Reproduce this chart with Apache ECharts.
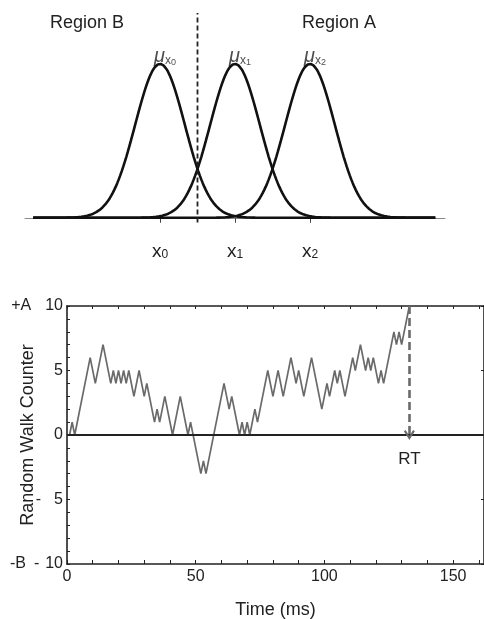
<!DOCTYPE html>
<html>
<head>
<meta charset="utf-8">
<script src="https://cdn.jsdelivr.net/npm/echarts@6/dist/echarts.min.js"></script>
<style>
html, body { margin: 0; padding: 0; background: #fff; }
#chart { width: 484px; height: 619px; }
</style>
</head>
<body>
<div id="chart"></div>
<script>
// top panel: stimulus distributions and decision criterion
var stimMeans = [0, 1, 2];
var stimNames = ['0', '1', '2'];
var stimSd = 0.33;
var criterion = 0.5;
var curveRange = [-1.69, 3.67];
var regionNames = ['Region B', 'Region A'];

// bottom panel: random walk turning points (time in ms, counter value)
var walkTime = [1, 2, 3, 9, 11, 14, 17, 18, 19, 20, 21, 22, 23, 24, 26, 28, 30, 31, 34, 35,
  36, 38, 41, 44, 47, 48, 52, 53, 54, 61, 63, 64, 67, 68, 69, 70, 71, 73, 74, 78,
  80, 82, 84, 87, 89, 90, 92, 95, 99, 101, 102, 104, 105, 106, 108, 111, 112, 114, 116, 117,
  118, 119, 121, 122, 123, 127, 128, 129, 130, 133];
var walkCount = [0, 1, 0, 6, 4, 7, 4, 5, 4, 5, 4, 5, 4, 5, 3, 5, 3, 4, 1, 2,
  1, 3, 0, 3, 0, 1, -3, -2, -3, 4, 2, 3, 0, 1, 0, 1, 0, 2, 1, 5,
  3, 5, 3, 6, 4, 5, 3, 6, 2, 4, 3, 5, 4, 5, 3, 6, 5, 7, 5, 6,
  5, 6, 4, 5, 4, 8, 7, 8, 7, 10];
var rtTime = 133;
var boundA = 10;
var xLabelTicks = [0, 50, 100, 150];

var FONT = '"Liberation Sans", Arial, sans-serif';
var chart = echarts.init(document.getElementById('chart'), null, { renderer: 'canvas' });

function gauss(x, m) {
  return Math.exp(-(x - m) * (x - m) / (2 * stimSd * stimSd));
}

var curveSeries = stimMeans.map(function (m) {
  var pts = [];
  for (var x = curveRange[0]; x <= curveRange[1] + 1e-9; x += 0.02) {
    pts.push([x, gauss(x, m)]);
  }
  return {
    type: 'line', xAxisIndex: 0, yAxisIndex: 0, data: pts,
    showSymbol: false, silent: true,
    lineStyle: { color: '#111', width: 2.6 }
  };
});

var walkData = walkTime.map(function (t, i) { return [t, walkCount[i]]; });

var yLabel = function (v) {
  if (v === 10) return '{p|+A}{n|10}';
  if (v === 5) return '{n|5}';
  if (v === 0) return '{n|0}';
  if (v === -5) return '{m5|-}{n|5}';
  if (v === -10) return '{q|-B}{m10|-}{n|10}';
  return '';
};

var frameLine = { show: true, onZero: false, lineStyle: { color: '#222', width: 1.6 } };
var innerTick = { show: true, inside: true, length: 3, lineStyle: { color: '#222', width: 1 } };

var option = {
  animation: false,
  backgroundColor: '#fff',
  textStyle: { fontFamily: FONT },
  grid: [
    { left: 25, top: 10, width: 420, height: 217, outerBoundsMode: 'none', containLabel: false },
    { left: 67, top: 306, width: 417, height: 258, outerBoundsMode: 'none', containLabel: false }
  ],
  xAxis: [
    {
      type: 'value', gridIndex: 0, min: -1.8, max: 3.8,
      axisLine: { show: true, onZero: true, lineStyle: { color: '#8a8a8a', width: 1 } },
      axisTick: { show: true, customValues: stimMeans, length: 5, lineStyle: { color: '#444', width: 1 } },
      axisLabel: {
        show: true, customValues: stimMeans, margin: 12, color: '#222',
        formatter: function (v) {
          var i = stimMeans.indexOf(v);
          return '{x|x}{s|' + stimNames[i] + '}';
        },
        rich: {
          x: { fontSize: 19, fontFamily: FONT, color: '#222', lineHeight: 22, verticalAlign: 'bottom' },
          s: { fontSize: 12, fontFamily: FONT, color: '#222', lineHeight: 10, verticalAlign: 'bottom' }
        }
      },
      splitLine: { show: false }
    },
    {
      type: 'value', gridIndex: 1, min: 0, max: 162, interval: 10,
      axisLine: frameLine,
      axisTick: { show: true, inside: true, length: 4, lineStyle: { color: '#222', width: 1 } },
      axisLabel: {
        show: true, showMaxLabel: false, margin: 5, color: '#222', fontSize: 16, fontFamily: FONT,
        formatter: function (v) { return xLabelTicks.indexOf(v) >= 0 ? String(v) : ''; }
      },
      splitLine: { show: false },
      name: 'Time (ms)', nameLocation: 'middle', nameGap: 37, nameMoveOverlap: false,
      nameTextStyle: { fontSize: 18, color: '#222', fontFamily: FONT }
    },
    {
      type: 'value', gridIndex: 1, position: 'top', min: 0, max: 162, interval: 10,
      axisLine: frameLine,
      axisTick: innerTick,
      axisLabel: { show: false },
      splitLine: { show: false }
    }
  ],
  yAxis: [
    {
      type: 'value', gridIndex: 0, min: -0.06, max: 1.35, show: false, splitLine: { show: false }
    },
    {
      type: 'value', gridIndex: 1, min: -10, max: 10, interval: 1,
      axisLine: frameLine,
      axisTick: innerTick,
      axisLabel: {
        show: true, margin: 4, formatter: yLabel,
        rich: {
          n: { fontSize: 16, fontFamily: FONT, color: '#222' },
          p: { fontSize: 16, fontFamily: FONT, color: '#222', padding: [0, 14, 0, 0] },
          q: { fontSize: 16, fontFamily: FONT, color: '#222', padding: [0, 8, 0, 0] },
          m5: { fontSize: 16, fontFamily: FONT, color: '#222', padding: [0, 13, 0, 0] },
          m10: { fontSize: 16, fontFamily: FONT, color: '#222', padding: [0, 6, 0, 0] }
        }
      },
      splitLine: { show: false },
      name: 'Random Walk Counter', nameLocation: 'middle', nameGap: 30, nameMoveOverlap: false,
      nameTextStyle: { fontSize: 18, color: '#222', fontFamily: FONT }
    },
    {
      type: 'value', gridIndex: 1, position: 'right', min: -10, max: 10, interval: 5,
      axisLine: frameLine,
      axisTick: innerTick,
      axisLabel: { show: false },
      splitLine: { show: false }
    }
  ],
  graphic: [
    { type: 'text', left: 50, top: 14, style: { text: regionNames[0], font: '18px ' + FONT, fill: '#222' } },
    { type: 'text', left: 302, top: 14, style: { text: regionNames[1], font: '18px ' + FONT, fill: '#222' } }
  ],
  series: curveSeries.concat([
    {
      type: 'line', xAxisIndex: 0, yAxisIndex: 0, silent: true, showSymbol: false, clip: false,
      data: [[criterion, -0.03], [criterion, 1.33]],
      lineStyle: { color: '#222', width: 1.8, type: [5, 3] }
    },
    {
      type: 'scatter', xAxisIndex: 0, yAxisIndex: 0, silent: true, symbolSize: 0,
      data: stimMeans.map(function (m) { return [m, 1]; }),
      label: {
        show: true, position: 'top', distance: 0, offset: [5, 3],
        formatter: function (p) { return '{m|μ}{x|x}{s|' + stimNames[p.dataIndex] + '}'; },
        rich: {
          m: { fontSize: 20, fontStyle: 'italic', fontFamily: FONT, color: '#222', lineHeight: 24, verticalAlign: 'bottom' },
          x: { fontSize: 12, fontFamily: FONT, color: '#222', lineHeight: 8, verticalAlign: 'bottom' },
          s: { fontSize: 9, fontFamily: FONT, color: '#222', lineHeight: 4, verticalAlign: 'bottom' }
        }
      }
    },
    {
      type: 'line', xAxisIndex: 1, yAxisIndex: 1, data: walkData,
      showSymbol: false, silent: true,
      lineStyle: { color: '#6a6a6a', width: 1.7 },
      markLine: {
        silent: true, symbol: ['none', 'none'], animation: false,
        label: { show: false },
        data: [
          { yAxis: 0, lineStyle: { color: '#222', width: 1.8, type: 'solid' } },
          [
            {
              coord: [rtTime, boundA], symbol: 'none',
              lineStyle: { color: '#6a6a6a', width: 2.6, type: [8, 4] },
              label: { show: true, position: 'end', distance: 16, formatter: 'RT', fontSize: 17, color: '#222', fontFamily: FONT }
            },
            {
              coord: [rtTime, 0], symbol: 'path://M5,0 L10,9 L8.4,10.2 L5,4 L1.6,10.2 L0,9 Z', symbolSize: [11, 10]
            }
          ]
        ]
      }
    }
  ])
};

chart.setOption(option);
</script>
</body>
</html>
